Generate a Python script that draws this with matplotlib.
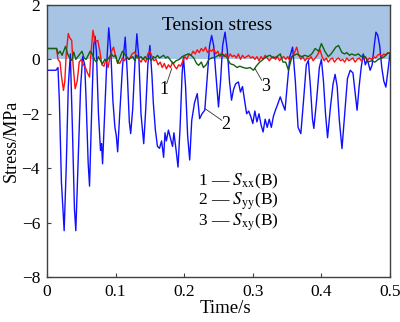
import numpy as np
import matplotlib.pyplot as plt

# tension stress time histories at point B

t_yy = [0, 0.013, 0.016, 0.018, 0.021, 0.025, 0.028, 0.031, 0.034, 0.037, 0.040, 0.042, 0.045,
        0.049, 0.052, 0.055, 0.057, 0.060, 0.062, 0.065, 0.068, 0.070, 0.072, 0.075, 0.078,
        0.0795, 0.081, 0.084, 0.087, 0.090, 0.093, 0.096, 0.099, 0.101, 0.103, 0.106, 0.110,
        0.114, 0.117, 0.120, 0.122, 0.125, 0.128, 0.131, 0.134, 0.137, 0.141, 0.144, 0.147,
        0.150, 0.153, 0.155, 0.158, 0.161, 0.164, 0.167, 0.170, 0.172, 0.174, 0.177, 0.180,
        0.183, 0.185, 0.188, 0.191, 0.194, 0.197, 0.199, 0.202, 0.205, 0.208, 0.211, 0.215,
        0.219, 0.2225, 0.226, 0.230, 0.234, 0.237, 0.240, 0.243, 0.246, 0.250, 0.253, 0.256,
        0.2595, 0.263, 0.266, 0.269, 0.272, 0.275, 0.279, 0.282, 0.285, 0.288, 0.291, 0.294,
        0.297, 0.300, 0.303, 0.306, 0.309, 0.312, 0.315, 0.318, 0.321, 0.324, 0.327, 0.330,
        0.333, 0.337, 0.340, 0.343, 0.347, 0.350, 0.354, 0.358, 0.362, 0.366, 0.370, 0.374,
        0.378, 0.381, 0.384, 0.387, 0.389, 0.393, 0.397, 0.400, 0.403, 0.406, 0.409, 0.413,
        0.417, 0.420, 0.423, 0.426, 0.430, 0.434, 0.438, 0.442, 0.446, 0.449, 0.452, 0.455,
        0.458, 0.461, 0.464, 0.467, 0.471, 0.474, 0.477, 0.4795, 0.482, 0.485, 0.488, 0.491,
        0.494, 0.497, 0.500]
s_yy = [-0.4, -0.4, -0.3, -1.5, -4.5, -6.3, -4.0, -1.0, 0.2, -2.5, -5.5, -6.3, -4.0,
        -1.0, 0.1, -0.2, -1.5, -3.8, -4.66, -2.0, 0.5, 0.85, 0.3, -2.0, -3.35,
        -3.1, -3.84, -2.0, -0.2, 1.16, 0.3, -1.5, -2.5, -2.8, -3.4, -2.0, -0.3,
        0.82, -0.5, -2.3, -2.73, -1.8, -0.2, 0.94, 0.0, -2.0, -3.1, -1.8, -0.2,
        0.51, -0.6, -1.6, -2.6, -3.2, -3.27, -3.0, -3.6, -2.7, -3.0, -2.6, -2.9,
        -3.2, -2.7, -3.3, -3.96, -2.5, -0.5, 0.08, -1.0, -2.8, -3.7, -2.24, -1.6,
        -1.26, -2.18, -2.0, -1.87, -0.5, 0.5, 0.88, 0.5, -0.5, -1.75, -0.8, 0.5,
        1.0, 0.3, -0.8, -1.5, -1.1, -0.9, -0.83, -1.2, -1.0, -1.5, -2.0, -1.9,
        -2.1, -2.36, -1.9, -2.3, -2.0, -2.4, -2.67, -2.2, -2.5, -2.2, -2.5, -2.1,
        -1.87, -1.6, -1.38, -1.6, -1.87, -1.0, 0.1, 0.45, -0.8, -2.5, -2.73, -1.5,
        -0.2, -0.04, -1.0, -2.2, -2.54, -1.5, -0.3, 0.0, -0.8, -2.0, -2.88, -1.8,
        -0.9, -0.55, -1.0, -2.2, -3.28, -2.0, -0.7, -0.4, -0.5, -1.2, -1.87, -1.0,
        -0.3, 0.2, -0.2, 0.0, -0.4, -0.2, 0.5, 1.0, 0.9, 0.5, -0.3, -0.8,
        -1.02, -0.4, 0.2]

t_xx = [0, 0.014, 0.016, 0.019, 0.021, 0.024, 0.026, 0.028, 0.031, 0.033, 0.036, 0.038, 0.041,
        0.044, 0.047, 0.050, 0.053, 0.056, 0.059, 0.062, 0.064, 0.067, 0.070, 0.074, 0.077,
        0.080, 0.083, 0.086, 0.089, 0.092, 0.095, 0.097, 0.100, 0.103, 0.106, 0.110, 0.113,
        0.116, 0.120, 0.124, 0.128, 0.131, 0.134, 0.137, 0.140, 0.144, 0.147, 0.150, 0.153,
        0.156, 0.159, 0.162, 0.165, 0.168, 0.171, 0.174, 0.177, 0.180, 0.183, 0.186, 0.189,
        0.192, 0.195, 0.198, 0.201, 0.204, 0.207, 0.210, 0.213, 0.216, 0.219, 0.222, 0.225,
        0.228, 0.231, 0.234, 0.237, 0.240, 0.243, 0.246, 0.249, 0.252, 0.255, 0.258, 0.261,
        0.264, 0.267, 0.270, 0.273, 0.276, 0.279, 0.282, 0.285, 0.288, 0.291, 0.294, 0.297,
        0.300, 0.303, 0.306, 0.309, 0.312, 0.315, 0.318, 0.321, 0.324, 0.327, 0.330, 0.333,
        0.336, 0.339, 0.342, 0.345, 0.348, 0.351, 0.354, 0.357, 0.360, 0.364, 0.367, 0.370,
        0.373, 0.376, 0.379, 0.382, 0.385, 0.388, 0.391, 0.394, 0.398, 0.401, 0.404, 0.407,
        0.410, 0.413, 0.416, 0.419, 0.422, 0.425, 0.428, 0.431, 0.434, 0.437, 0.440, 0.443,
        0.446, 0.449, 0.452, 0.455, 0.458, 0.461, 0.464, 0.467, 0.470, 0.473, 0.476, 0.479,
        0.482, 0.485, 0.488, 0.491, 0.494, 0.497, 0.500]
s_xx = [0.4, 0.4, 0.0, -0.1, -0.6, -1.14, -0.8, 0.2, 0.95, 0.8, 0.7, -0.2, -1.08,
        -0.8, -0.1, 0.0, -0.2, -0.3, -0.5, -0.65, 0.2, 1.07, 0.65, 0.7, 0.3,
        -0.2, -0.25, 0.0, -0.3, 0.1, 0.35, 0.45, 0.1, -0.1, -0.15, 0.05, -0.05,
        0.1, 0.0, 0.2, 0.27, 0.1, 0.0, -0.1, 0.05, -0.1, 0.2, 0.3, 0.1,
        -0.05, 0.0, -0.2, -0.1, -0.3, -0.15, -0.35, -0.2, -0.3, -0.1, -0.25, -0.35,
        -0.2, -0.25, -0.05, 0.1, 0.0, 0.2, 0.15, 0.3, 0.2, 0.35, 0.25, 0.4,
        0.3, 0.45, 0.25, 0.35, 0.3, 0.4, 0.2, 0.3, 0.1, 0.25, 0.1, 0.2,
        0.05, 0.2, 0.1, 0.15, 0.05, 0.2, 0.0, 0.15, 0.05, 0.1, 0.15, 0.05,
        0.1, 0.0, 0.1, -0.05, 0.1, 0.0, 0.15, 0.05, -0.05, 0.05, 0.1, 0.0,
        0.1, -0.05, 0.05, 0.1, 0.0, 0.1, -0.05, 0.1, 0.2, 0.45, 0.15, 0.0,
        0.1, -0.05, 0.05, 0.0, 0.1, -0.05, 0.05, 0.15, 0.35, 0.1, -0.05, 0.05,
        -0.1, 0.0, 0.05, -0.1, 0.0, 0.05, -0.05, 0.0, -0.1, 0.05, -0.05, 0.0,
        0.05, -0.1, 0.0, 0.05, -0.05, 0.0, 0.1, -0.05, 0.05, 0.0, 0.1, 0.05,
        0.15, 0.2, 0.1, 0.2, 0.15, 0.25, 0.2]

t_xy = [0, 0.014, 0.016, 0.019, 0.022, 0.025, 0.027, 0.030, 0.033, 0.036, 0.039, 0.042, 0.045,
        0.048, 0.051, 0.054, 0.057, 0.060, 0.063, 0.066, 0.069, 0.072, 0.075, 0.078, 0.081,
        0.084, 0.087, 0.090, 0.094, 0.097, 0.100, 0.103, 0.106, 0.110, 0.113, 0.116, 0.119,
        0.122, 0.125, 0.128, 0.131, 0.134, 0.137, 0.140, 0.143, 0.146, 0.149, 0.152, 0.155,
        0.158, 0.161, 0.164, 0.167, 0.170, 0.173, 0.176, 0.179, 0.184, 0.188, 0.193, 0.197,
        0.201, 0.206, 0.210, 0.214, 0.218, 0.221, 0.225, 0.228, 0.232, 0.236, 0.240, 0.245,
        0.250, 0.255, 0.258, 0.262, 0.267, 0.272, 0.277, 0.281, 0.286, 0.291, 0.296, 0.301,
        0.305, 0.310, 0.315, 0.320, 0.325, 0.330, 0.335, 0.340, 0.344, 0.348, 0.352, 0.357,
        0.364, 0.371, 0.376, 0.381, 0.386, 0.391, 0.396, 0.400, 0.405, 0.410, 0.414, 0.417,
        0.421, 0.425, 0.430, 0.434, 0.437, 0.441, 0.444, 0.449, 0.454, 0.458, 0.461, 0.465,
        0.468, 0.473, 0.478, 0.483, 0.488, 0.492, 0.495, 0.500]
s_xy = [0.4, 0.4, 0.2, 0.3, 0.15, 0.35, 0.48, 0.2, 0.05, -0.04, 0.27, 0.0, 0.1,
        0.2, 0.3, 0.05, 0.0, 0.15, 0.3, 0.2, 0.0, -0.1, 0.1, -0.05, -0.16,
        0.0, -0.05, 0.05, 0.2, 0.1, 0.15, -0.15, 0.05, 0.3, 0.2, 0.1, 0.0,
        0.05, 0.1, -0.05, 0.15, 0.05, 0.1, 0.0, 0.1, 0.0, 0.05, -0.05, 0.1,
        0.05, 0.15, 0.05, 0.1, 0.15, 0.05, 0.1, 0.0, -0.16, -0.05, 0.0, 0.1,
        0.15, 0.2, 0.15, 0.05, -0.15, -0.22, -0.1, -0.3, -0.2, 0.0, 0.05, 0.08,
        0.15, 0.2, 0.15, 0.08, -0.16, -0.2, -0.3, -0.25, -0.3, -0.33, -0.3, -0.4,
        -0.25, -0.1, 0.0, 0.1, 0.15, 0.05, 0.1, 0.2, -0.1, -0.1, -0.4, 0.1,
        0.2, 0.1, 0.15, 0.1, 0.2, 0.4, 0.3, 0.58, 0.3, 0.1, 0.2, 0.3,
        0.45, 0.51, 0.25, 0.2, 0.25, 0.15, 0.2, 0.15, 0.2, 0.1, 0.15, 0.05,
        -0.1, -0.05, -0.1, 0.0, 0.05, 0.1, 0.2, 0.25]

legend_rows = [r'1 — $S_{\rm xx}$(B)', r'2 — $S_{\rm yy}$(B)', r'3 — $S_{\rm xy}$(B)']

plt.rcParams['font.family'] = ['Liberation Serif', 'DejaVu Serif']
plt.rcParams['mathtext.fontset'] = 'stix'
plt.rcParams['font.size'] = 12

fig = plt.figure(figsize=(4, 3.22), dpi=100)
ax = fig.add_axes([0.1175, 0.14, 0.8575, 0.8445])

ax.axhspan(0, 2, color='#a7c4e5', zorder=0, lw=0)
ax.plot(t_yy, s_yy, color='#1010ff', lw=1.0)
ax.plot(t_xx, s_xx, color='#ff1010', lw=1.0)
ax.plot(t_xy, s_xy, color='#135f13', lw=1.0)

ax.text(0.248, 1.25, 'Tension stress', ha='center', va='center', fontsize=14)

# curve numbers and their leader lines
lc = '#303030'
ax.plot([0.1745, 0.1818], [-0.89, -0.34], color=lc, lw=0.6)
ax.text(0.1706, -1.1, '1', ha='center', va='center', fontsize=13)
ax.plot([0.2303, 0.2547], [-1.81, -2.24], color=lc, lw=0.6)
ax.text(0.2605, -2.38, '2', ha='center', va='center', fontsize=13)
ax.plot([0.3032, 0.313], [-0.34, -0.77], color=lc, lw=0.6)
ax.text(0.3185, -1.0, '3', ha='center', va='center', fontsize=13)

for i, row in enumerate(legend_rows):
    ax.text(0.2205, -4.49 - 0.74 * i, row, ha='left', va='center', fontsize=12.5)

ax.set_xlim(0, 0.5)
ax.set_ylim(-8, 2)
ax.set_xticks([0, 0.1, 0.2, 0.3, 0.4, 0.5])
ax.set_xticklabels(['0', '0.1', '0.2', '0.3', '0.4', '0.5'])
ax.set_yticks([-8, -6, -4, -2, 0, 2])
ax.set_yticklabels(['−8', '−6', '−4', '−2', '0', '2'])
ax.tick_params(direction='in', length=3, width=0.8, color='#404040', pad=5, labelsize=12.5)
for s in ax.spines.values():
    s.set_color('#404040')
    s.set_linewidth(1.0)

ax.set_xlabel('Time/s', fontsize=13.5)
ax.xaxis.set_label_coords(0.52, -0.085)
ax.set_ylabel('Stress/MPa', fontsize=13)
ax.yaxis.set_label_coords(-0.078, 0.5)

fig.savefig('out.png', dpi=100)
